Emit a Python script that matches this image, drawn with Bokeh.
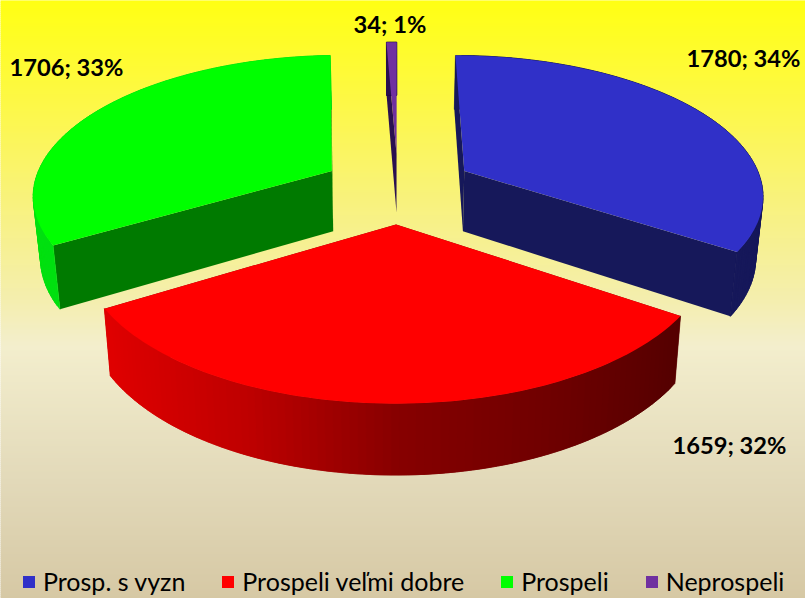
import numpy as np
from bokeh.embed import file_html
from bokeh.resources import INLINE
from bokeh.plotting import figure
from bokeh.models import Range1d, Legend, LegendItem
from bokeh.core.properties import value

categories = ["Prosp. s vyzn", "Prospeli veľmi dobre", "Prospeli", "Neprospeli"]
counts = [1780, 1659, 1706, 34]
top_colors = ["#3030C8", "#FF0000", "#00FF00", "#7030A0"]
face_colors = ["#16185A", "#7A0000", "#007A00", "#2A1050"]
wall_colors = ["#16185A", None, "#00E010", "#2A1050"]

# perspective disc model, in page pixels
CX, CY, A, B, P, EXPL, H, Q, SHRINK = 397.5, 187.0, 299.0, 138.4, 0.156, 0.256, 62.0, 0.016, 0.98


def project(u, v, bottom=False):
    den = 1 + P * v
    if not bottom:
        return CX + A * u / den, CY - B * v / den
    return CX + SHRINK * A * u / den, CY + (-B * v + H) / (den + Q)


def lerp_stops(t, stops):
    xs = [s[0] for s in stops]
    return [float(np.interp(t, xs, [s[1][i] for s in stops])) for i in range(3)]


def rgb(c):
    return "#%02X%02X%02X" % tuple(int(round(x)) for x in c)


W, Ht = 805, 598
p = figure(width=W, height=Ht, x_range=Range1d(0, W), y_range=Range1d(Ht, 0),
           x_axis_location=None, y_axis_location=None, toolbar_location=None,
           output_backend="svg", min_border=0, outline_line_color=None,
           border_fill_color=None)
p.grid.visible = False

# background gradient
bg_stops = [(0, (255, 255, 20)), (100, (253, 248, 70)), (200, (248, 242, 125)),
            (300, (244, 238, 175)), (345, (243, 238, 205)), (480, (226, 217, 185)),
            (598, (214, 200, 164))]
ys = np.arange(-4, Ht + 4, 2)
p.quad(left=-6, right=W + 6, top=ys, bottom=ys + 2.5,
       fill_color=[rgb(lerp_stops(y, bg_stops)) for y in ys], line_color=None)

# red wall shading across the page
red_wall = [(100, (225, 0, 0)), (250, (190, 0, 0)), (400, (135, 0, 0)),
            (550, (112, 0, 0)), (680, (85, 0, 0))]

total = sum(counts)
start = 0.0
slices = []
for c in counts:
    sweep = 2 * np.pi * c / total
    slices.append((start, start + sweep))
    start += sweep

top_renderers = {}
for idx in [3, 2, 0, 1]:  # back to front
    a0, a1 = slices[idx]
    mid = (a0 + a1) / 2
    ox, oy = EXPL * np.sin(mid), EXPL * np.cos(mid)
    th = np.linspace(a0, a1, 90)
    us, vs = ox + np.sin(th), oy + np.cos(th)

    # radial cut faces
    for k in (0, -1):
        pts = [project(ox, oy), project(us[k], vs[k]),
               project(us[k], vs[k], True), project(ox, oy, True)]
        p.patch([q[0] for q in pts], [q[1] for q in pts],
                fill_color=face_colors[idx], line_color=None)

    # outer wall, short overlapping strips
    for j in range(len(th) - 1):
        last = min(j + 3, len(th))
        seg_up = [project(us[m], vs[m]) for m in range(j, last)]
        seg_lo = [project(us[m], vs[m], True) for m in range(j, last)][::-1]
        xy = seg_up + seg_lo
        col = wall_colors[idx] or rgb(lerp_stops(seg_up[0][0], red_wall))
        p.patch([z[0] for z in xy], [z[1] for z in xy], fill_color=col,
                line_color=col, line_width=0.6)

    # top face
    xy = [project(ox, oy)] + [project(a, b) for a, b in zip(us, vs)]
    top_renderers[idx] = p.patch([z[0] for z in xy], [z[1] for z in xy],
                                 fill_color=top_colors[idx], line_color=None)

# data labels
label_x = [743, 729, 66, 389.5]
label_y = [57.5, 444.5, 66, 23.5]
for i, c in enumerate(counts):
    txt = f"{c}; {round(c / total * 100)}%"
    p.text(x=[label_x[i]], y=[label_y[i]], text=[txt], text_font=value("Lato"),
           text_font_style="bold", text_font_size="23.7px", text_color="#000000",
           text_align="center", text_baseline="middle")

legend = Legend(items=[LegendItem(label=categories[i], renderers=[top_renderers[i]]) for i in range(4)],
                orientation="horizontal", location=(21, 2), spacing=35, label_standoff=7,
                glyph_width=15, glyph_height=15, padding=0, margin=0,
                background_fill_alpha=0, border_line_color=None,
                label_text_font="Lato", label_text_font_size="25px", label_text_color="#000000")
p.add_layout(legend, "center")

open("out.html", "w").write(file_html(p, INLINE))
